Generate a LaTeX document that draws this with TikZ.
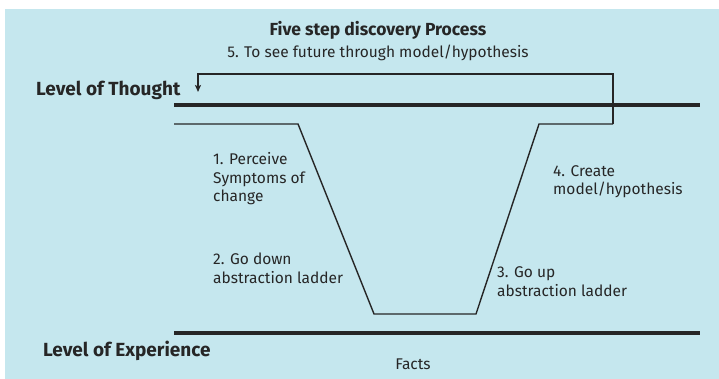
\documentclass[tikz,border=0pt]{standalone}
\usepackage{fontspec}
\setmainfont{Fira Sans}
\usetikzlibrary{arrows.meta}
\definecolor{bg}{HTML}{C5E7EE}
\definecolor{ink}{HTML}{262626}
\begin{document}
\begin{tikzpicture}[x=1pt,y=-1pt,
  lbl/.style={inner sep=0pt,text=ink,font=\fontsize{15.5}{18.6}\selectfont,align=left},
  ttl/.style={inner sep=0pt,text=ink,font=\fontsize{17.5}{20}\selectfont\bfseries},
  lvl/.style={inner sep=0pt,text=ink,font=\fontsize{19}{22}\selectfont\bfseries},
  thin/.style={draw=ink,line width=1.4pt},
  thick/.style={draw=ink,line width=4.5pt}]
\useasboundingbox (0,0) rectangle (719,379);
\fill[white] (0,0) rectangle (719,379);
\fill[bg] (5,9) rectangle (719,379);
% texts
\node[ttl,anchor=base] (title) at (378,35.5) {Five step discovery Process};
\node[lbl,anchor=base] (five) at (378,58) {5. To see future through model/hypothesis};
\node[lvl,anchor=base west] (thought) at (36,96) {Level of Thought};
\node[lvl,anchor=base west] (exper) at (43,356) {Level of Experience};
\node[lbl,anchor=base] (facts) at (413,369) {Facts};
\node[lbl,anchor=base west] (one) at (213,202) {1. Perceive\\Symptoms of\\change};
\node[lbl,anchor=base west] (two) at (213,283) {2. Go down\\abstraction ladder};
\node[lbl,anchor=base west] (three) at (497,296) {3. Go up\\abstraction ladder};
\node[lbl,anchor=base west] (four) at (553,195) {4. Create\\model/hypothesis};
% levels
\coordinate (tl) at (174,105); \coordinate (tr) at (700,105);
\coordinate (bl) at (174,333); \coordinate (br) at (700,333);
\draw[thick] (tl) -- (tr);
\draw[thick] (bl) -- (br);
% trapezoid
\coordinate (a) at (174,124); \coordinate (b) at (298,124);
\coordinate (c) at (374,314); \coordinate (d) at (476,314);
\coordinate (e) at (539,124); \coordinate (f) at (613,124);
\draw[thin,line join=miter] (a) -- (b) -- (c) -- (d) -- (e) -- (f);
% loop arrow
\coordinate (g) at (613,74); \coordinate (h) at (198,74); \coordinate (k) at (198,92);
\draw[thin,-{Stealth[length=7pt,width=6pt,inset=1.5pt]}] (f) -- (g) -- (h) -- (k);
\end{tikzpicture}
\end{document}
